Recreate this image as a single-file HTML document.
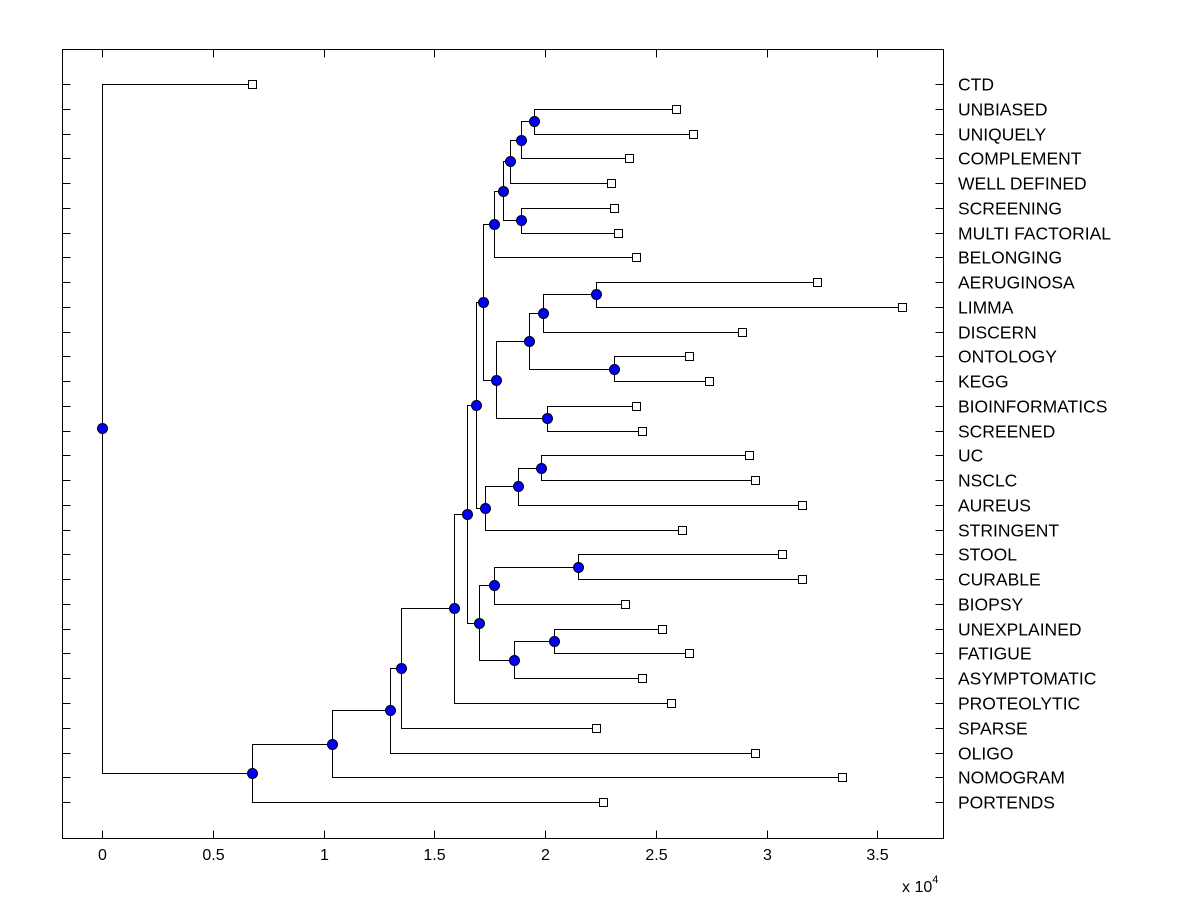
<!DOCTYPE html>
<html><head><meta charset="utf-8"><style>
body{margin:0;background:#fff}
svg{display:block;font-family:"Liberation Sans",Arial,sans-serif}
</style></head><body>
<svg id="chart" width="1200" height="900" viewBox="0 0 1200 900" xmlns="http://www.w3.org/2000/svg">
<rect x="0" y="0" width="1200" height="900" fill="#fff"/>
<g id="ticks"></g>
<g id="links"></g>
<g id="marks"></g>
<g id="labels"></g>
<rect x="62.5" y="49.5" width="881" height="789" fill="none" stroke="#000" stroke-width="1"/>
<text x="902" y="892" font-size="16">x 10<tspan dy="-9" font-size="11">4</tspan></text>
</svg>
<script>
const leafNames = ["CTD","UNBIASED","UNIQUELY","COMPLEMENT","WELL DEFINED","SCREENING","MULTI FACTORIAL","BELONGING","AERUGINOSA","LIMMA","DISCERN","ONTOLOGY","KEGG","BIOINFORMATICS","SCREENED","UC","NSCLC","AUREUS","STRINGENT","STOOL","CURABLE","BIOPSY","UNEXPLAINED","FATIGUE","ASYMPTOMATIC","PROTEOLYTIC","SPARSE","OLIGO","NOMOGRAM","PORTENDS"];
const leafHeights = [0.677,2.59,2.67,2.38,2.30,2.31,2.33,2.41,3.23,3.61,2.89,2.65,2.74,2.41,2.44,2.92,2.95,3.16,2.62,3.07,3.16,2.36,2.53,2.65,2.44,2.57,2.23,2.95,3.34,2.26];
const nodeHeights = [0,0.677,1.04,1.30,1.35,1.59,1.65,1.69,1.70,1.72,1.73,1.77,1.86,1.77,1.78,1.88,2.15,2.04,1.81,1.93,2.01,1.98,1.84,1.89,1.99,2.31,1.89,2.23,1.95];
const nodeLeft  = ["L0","N2","N3","N4","N5","N6","N7","N9","N11","N13","N15","N16","N17","N18","N19","N21","L19","L22","N22","N24","L13","L15","N26","L5","N27","L11","N28","L8","L1"];
const nodeRight = ["N1","L29","L28","L27","L26","L25","N8","N10","N12","N14","L18","L21","L24","L7","N20","L17","L20","L23","N23","N25","L14","L16","L4","L6","L10","L12","L3","L9","L2"];
const xTicks = [0,0.5,1,1.5,2,2.5,3,3.5];
const xTickLabels = ["0","0.5","1","1.5","2","2.5","3","3.5"];

const X0 = 102, XS = 221.5, Y0 = 84, YS = 24.76;
const L = 62.5, R = 943.5, T = 49.5, B = 838.5;
const xScale = v => X0 + v * XS;
const yScale = i => Y0 + i * YS;
const NS = "http://www.w3.org/2000/svg";
function mk(tag, attrs, parent){const e=document.createElementNS(NS,tag);for(const k in attrs)e.setAttribute(k,attrs[k]);parent.appendChild(e);return e;}
const gT=document.getElementById('ticks'),gL=document.getElementById('links'),gM=document.getElementById('marks'),gLab=document.getElementById('labels');

xTicks.forEach((t,i)=>{
  const x=Math.round(xScale(t))+0.5;
  let e=mk('line',{x1:x,x2:x,y1:B,y2:B-8,stroke:'#000'},gT);
  
  
  e=mk('line',{x1:x,x2:x,y1:T,y2:T+8,stroke:'#000'},gT);
  
  
  e=mk('text',{x:x,y:860,'font-size':16,'text-anchor':'middle'},gT);
  e.textContent=xTickLabels[i];
  
  
});
leafNames.forEach((n,i)=>{
  const y=Math.round(yScale(i))+0.5;
  let e=mk('line',{x1:L,x2:L+8,y1:y,y2:y,stroke:'#000'},gT);
  
  
  e=mk('line',{x1:R,x2:R-8,y1:y,y2:y,stroke:'#000'},gT);
  
  
  e=mk('text',{x:958,y:y+6,'font-size':17.5},gLab);
  e.textContent=n;
  
  
});

function pos(ref){
  const k=ref[0], i=+ref.slice(1);
  if(k==='L') return {x:xScale(leafHeights[i]), y:yScale(i)};
  const a=pos(nodeLeft[i]), b=pos(nodeRight[i]);
  return {x:xScale(nodeHeights[i]), y:(a.y+b.y)/2};
}
const dots=[];
nodeHeights.forEach((h,i)=>{
  const p=pos('N'+i), a=pos(nodeLeft[i]), b=pos(nodeRight[i]);
  const px=Math.round(p.x)+0.5;
  const d=`M${Math.round(a.x)+0.5},${Math.round(a.y)+0.5} H${px} V${Math.round(b.y)+0.5} H${Math.round(b.x)+0.5}`;
  const e=mk('path',{d:d,fill:'none',stroke:'#000','stroke-width':1},gL);
  
  
  dots.push(p);
});
leafHeights.forEach((h,i)=>{
  const p=pos('L'+i);
  const e=mk('rect',{x:Math.round(p.x)-4+0.5,y:Math.round(p.y)-4+0.5,width:8,height:8,fill:'#fff',stroke:'#000'},gM);
  
  
});
dots.forEach(p=>{
  const e=mk('circle',{cx:Math.round(p.x)+0.5,cy:Math.round(p.y)+0.5,r:5,fill:'#0000ff',stroke:'#000','stroke-width':1},gM);
  
  
});
</script>
</body></html>
